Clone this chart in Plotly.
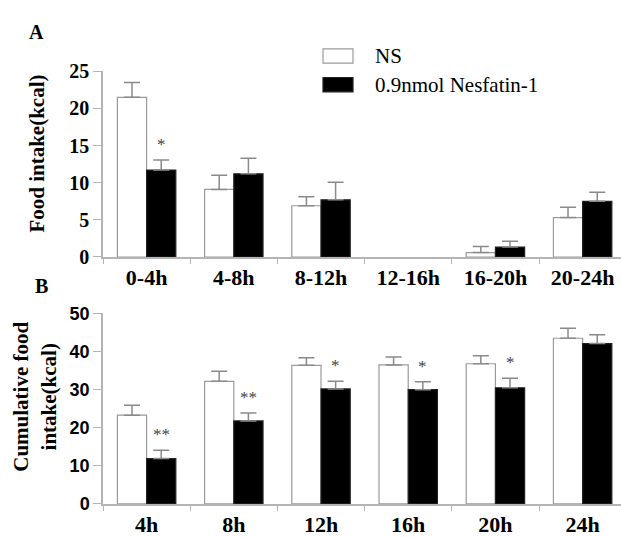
import plotly.graph_objects as go

# ---------------- data ----------------
cats_a = ["0-4h", "4-8h", "8-12h", "12-16h", "16-20h", "20-24h"]
ns_a = [21.5, 9.1, 6.9, 0, 0.6, 5.3]
ns_a_err = [2.0, 1.9, 1.2, 0, 0.8, 1.4]
nes_a = [11.7, 11.2, 7.7, 0, 1.33, 7.5]
nes_a_err = [1.35, 2.1, 2.35, 0, 0.8, 1.2]
sig_a = ["*", "", "", "", "", ""]

cats_b = ["4h", "8h", "12h", "16h", "20h", "24h"]
ns_b = [23.3, 32.2, 36.4, 36.5, 36.8, 43.5]
ns_b_err = [2.6, 2.6, 2.0, 2.1, 2.1, 2.6]
nes_b = [11.9, 21.8, 30.2, 30.0, 30.5, 42.1]
nes_b_err = [2.2, 2.1, 2.0, 2.1, 2.5, 2.3]
sig_b = ["**", "**", "*", "*", "*", ""]

series_names = ["NS", "0.9nmol Nesfatin-1"]
ytitle_a = "Food intake(kcal)"
ytitle_b = "Cumulative food<br>intake(kcal)"

# ---------------- styling ----------------
W, H = 621, 537
AXIS_C = "#b4b4b4"
ERR_C = "#8a8a8a"
SERIF = "Liberation Serif, Times New Roman, serif"
SANS = "Liberation Sans, Arial, sans-serif"

fig = go.Figure()


def nz(vals):
    # zero-height bars are not drawn at all (nothing visible in the original)
    return [v if v else None for v in vals]


def add_pair(cats, ns, ns_err, nes, nes_err, xa, ya):
    fig.add_trace(go.Bar(
        x=cats, y=nz(ns), name=series_names[0], xaxis=xa, yaxis=ya,
        marker=dict(color="white", line=dict(color="#9a9a9a", width=1.2)),
        error_y=dict(type="data", array=nz(ns_err), symmetric=False,
                     arrayminus=[0] * len(ns), color=ERR_C, thickness=1.5, width=8),
        offsetgroup="ns", showlegend=False))
    fig.add_trace(go.Bar(
        x=cats, y=nz(nes), name=series_names[1], xaxis=xa, yaxis=ya,
        marker=dict(color="black", line=dict(color="#222222", width=1.2)),
        error_y=dict(type="data", array=nz(nes_err), symmetric=False,
                     arrayminus=[0] * len(nes), color=ERR_C, thickness=1.5, width=8),
        offsetgroup="nes", showlegend=False))


add_pair(cats_a, ns_a, ns_a_err, nes_a, nes_a_err, "x", "y")
add_pair(cats_b, ns_b, ns_b_err, nes_b, nes_b_err, "x2", "y2")

x_dom = [103 / W, 1.0]
ya_dom = [1 - 257 / H, 1 - 63 / H]
yb_dom = [1 - 515 / H, 1 - 316 / H]

bargap = 0.33
bar_px = (x_dom[1] - x_dom[0]) * W / 5.94
half_offset = bar_px * (1 - bargap) / 4

common_x = dict(
    type="category", range=[-0.5, 5.44], showline=True, linecolor=AXIS_C, linewidth=1.5,
    ticks="outside", tickson="boundaries", ticklen=5, tickcolor=AXIS_C, tickwidth=1,
    showgrid=False, zeroline=False,
    tickfont=dict(family=SERIF, size=22, color="black", weight="bold"),
    domain=x_dom, fixedrange=True)
common_y = dict(showline=True, linecolor=AXIS_C, linewidth=1.5, ticks="outside",
                ticklen=8, tickcolor=AXIS_C, tickwidth=1.2, showgrid=False,
                zeroline=False, fixedrange=True)

fig.update_layout(
    width=W, height=H, margin=dict(l=0, r=0, t=0, b=0),
    paper_bgcolor="white", plot_bgcolor="white",
    barmode="group", bargap=bargap, bargroupgap=0,
    showlegend=False,
    xaxis=dict(common_x, anchor="y"),
    yaxis=dict(common_y, anchor="x", domain=ya_dom, range=[0, 25], dtick=5,
               tickfont=dict(family=SERIF, size=20, color="black", weight="bold")),
    xaxis2=dict(common_x, anchor="y2"),
    yaxis2=dict(common_y, anchor="x2", domain=yb_dom, range=[0, 50], dtick=10,
                tickfont=dict(family=SANS, size=18, color="black", weight="bold")),
)

annotations = []
# significance markers above black bars
for cats, vals, errs, sig, xr, yr in [
        (cats_a, nes_a, nes_a_err, sig_a, "x", "y"),
        (cats_b, nes_b, nes_b_err, sig_b, "x2", "y2")]:
    for c, v, e, s in zip(cats, vals, errs, sig):
        if s:
            annotations.append(dict(
                x=c, y=v + (e or 0), xref=xr, yref=yr, text=s, showarrow=False,
                xshift=half_offset, yshift=4, yanchor="bottom",
                font=dict(family=SERIF, size=17, color="#444444")))

# axis titles and panel letters
annotations += [
    dict(x=37 / W, y=1 - 149 / H, xref="paper", yref="paper", text=ytitle_a,
         textangle=-90, showarrow=False, xanchor="center", yanchor="middle",
         font=dict(family=SERIF, size=21, color="black", weight="bold")),
    dict(x=35 / W, y=1 - 403 / H, xref="paper", yref="paper", text=ytitle_b,
         textangle=-90, showarrow=False, xanchor="center", yanchor="middle",
         font=dict(family=SERIF, size=21, color="black", weight="bold")),
    dict(x=36 / W, y=1 - 22 / H, xref="paper", yref="paper", text="A",
         showarrow=False, xanchor="center", yanchor="middle",
         font=dict(family=SERIF, size=20, color="black", weight="bold")),
    dict(x=41 / W, y=1 - 287 / H, xref="paper", yref="paper", text="B",
         showarrow=False, xanchor="center", yanchor="middle",
         font=dict(family=SERIF, size=20, color="black", weight="bold")),
]

# legend (drawn manually for wide swatches)
legend_rows = [(47, "white", "#9a9a9a"), (77, "black", "#222222")]
shapes = []
for (cy, fill, line), name in zip(legend_rows, series_names):
    shapes.append(dict(type="rect", xref="paper", yref="paper",
                       x0=323 / W, x1=353 / W, y0=1 - (cy + 7.5) / H, y1=1 - (cy - 7.5) / H,
                       fillcolor=fill, line=dict(color=line, width=1.2)))
    annotations.append(dict(x=373 / W, y=1 - cy / H, xref="paper", yref="paper",
                            text=name, showarrow=False, xanchor="left", yanchor="middle",
                            font=dict(family=SERIF, size=21, color="black")))

fig.update_layout(annotations=annotations, shapes=shapes)
fig.write_html("out.html")
